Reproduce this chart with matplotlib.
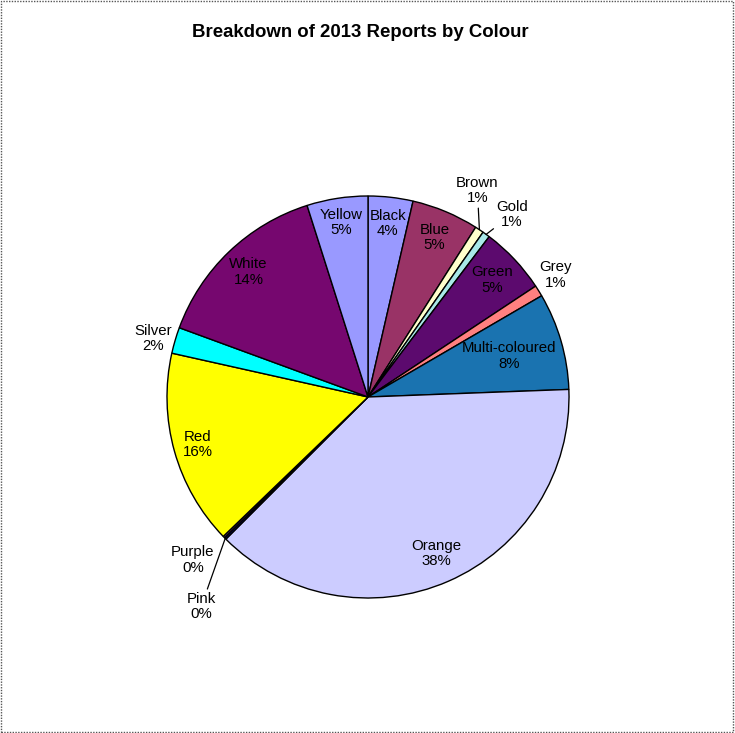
import numpy as np
import matplotlib
matplotlib.use('Agg')
import matplotlib.pyplot as plt
from matplotlib.patches import Rectangle

plt.rcParams['font.family'] = ['Liberation Sans', 'DejaVu Sans']

# share of reports (%), clockwise from 12 o'clock
colours = ['Black', 'Blue', 'Brown', 'Gold', 'Green', 'Grey', 'Multi-coloured',
           'Orange', 'Pink', 'Purple', 'Red', 'Silver', 'White', 'Yellow']
shares = [3.6, 5.4, 0.7, 0.6, 5.4, 0.9, 7.8, 38.1, 0.15, 0.15, 15.7, 2.1, 14.5, 4.9]
fills = ['#9999FF', '#993366', '#FFFFCC', '#A8E8E8', '#5C0A6E', '#FF8080', '#1A73B0',
         '#CCCCFF', '#000080', '#7F3F7F', '#FFFF00', '#00FFFF', '#76076F', '#9999FF']

# label placement: distance from centre for inside labels, pixel offset for outside ones
inside = {'Black': 0.87, 'Blue': 0.86, 'Green': 0.85, 'Multi-coloured': 0.73,
          'Orange': 0.85, 'Red': 0.88, 'White': 0.86, 'Yellow': 0.88}
outside = {'Brown': (-2, 39, True), 'Gold': (26, 20, True), 'Grey': (17, 16, False),
           'Silver': (-22, 2, False), 'Purple': (-31, -23, False), 'Pink': (-24, -68, True)}

fig = plt.figure(figsize=(7.35, 7.33), dpi=100)
ax = fig.add_axes([167 / 735, (733 - 397 - 201) / 733, 402 / 735, 402 / 733])

wedges, _ = ax.pie(shares, colors=fills, startangle=90, counterclock=False,
                   wedgeprops=dict(edgecolor='black', linewidth=1.0))
ax.set_xlim(-1, 1)
ax.set_ylim(-1, 1)
ax.set_aspect('equal')
ax.axis('off')

for w, name, val in zip(wedges, colours, shares):
    mid = np.deg2rad((w.theta1 + w.theta2) / 2)
    txt = '%s\n%d%%' % (name, round(val))
    if name in inside:
        d = inside[name]
        ax.text(d * np.cos(mid), d * np.sin(mid), txt, ha='center', va='center',
                fontsize=10.8, linespacing=1.12, clip_on=False)
    else:
        ox, oy, leader = outside[name]
        ap = dict(arrowstyle='-', color='black', lw=0.9, shrinkA=0, shrinkB=0) if leader else None
        ax.annotate(txt, xy=(np.cos(mid), np.sin(mid)), xytext=(ox * 0.72, oy * 0.72),
                    textcoords='offset points', ha='center', va='center', fontsize=10.8,
                    linespacing=1.12, arrowprops=ap, annotation_clip=False)

fig.text(0.49, 0.955, 'Breakdown of 2013 Reports by Colour', ha='center', va='center',
         fontsize=13.4, fontweight='bold')

fig.patches.append(Rectangle((0.001, 0.002), 0.996, 0.996, transform=fig.transFigure,
                             fill=False, edgecolor='#555555', linestyle=(0, (1, 1)), linewidth=1))

fig.savefig('out.png', dpi=100)
